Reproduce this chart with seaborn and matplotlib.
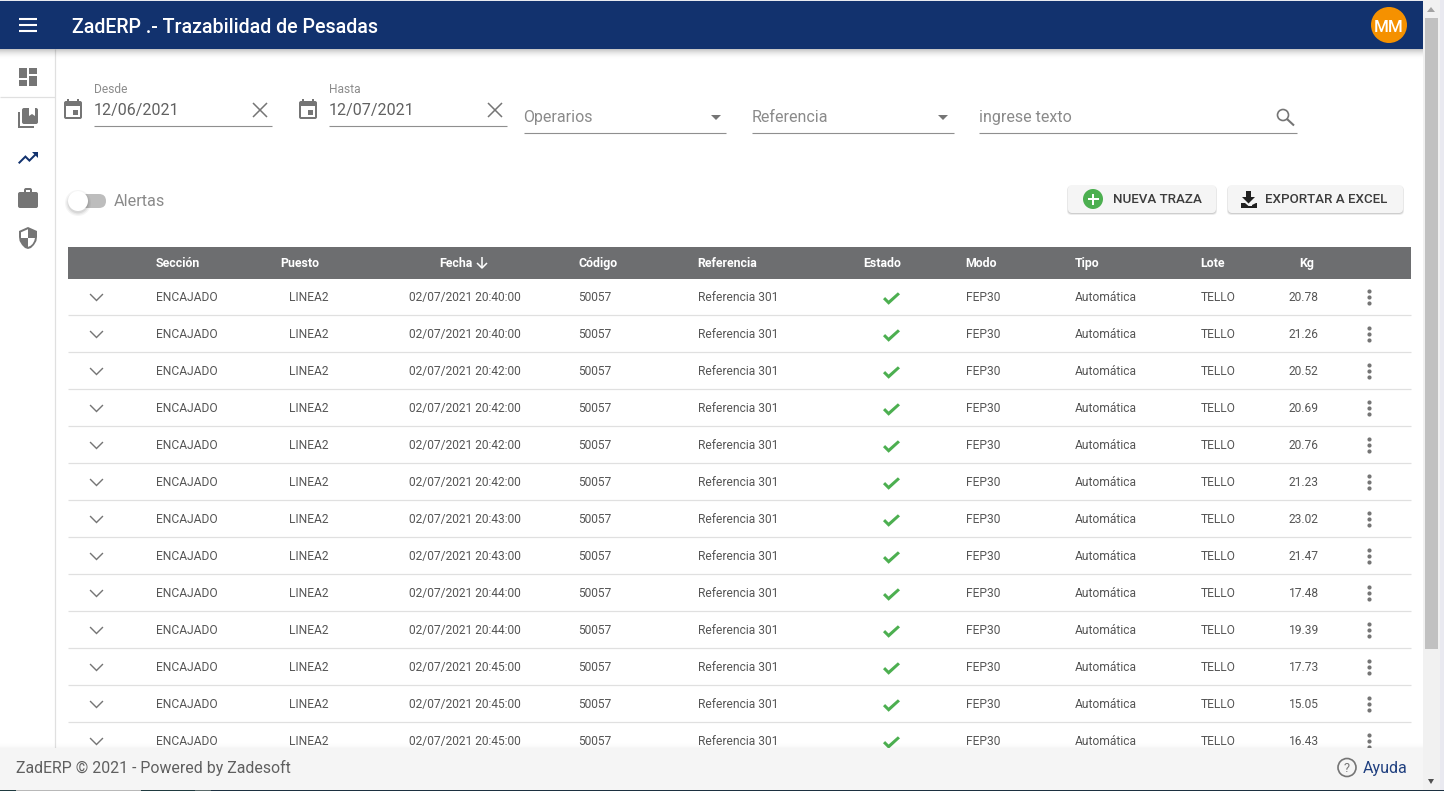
import numpy as np
import pandas as pd
import matplotlib
matplotlib.use('Agg')
import matplotlib.pyplot as plt
import seaborn as sns
from matplotlib.path import Path
from matplotlib.patches import Rectangle, Circle, Polygon, FancyBboxPatch

# table contents
columns = ['Sección', 'Puesto', 'Fecha', 'Código', 'Referencia', 'Estado', 'Modo', 'Tipo', 'Lote', 'Kg']
fechas = ['02/07/2021 20:40:00', '02/07/2021 20:40:00', '02/07/2021 20:42:00', '02/07/2021 20:42:00',
          '02/07/2021 20:42:00', '02/07/2021 20:42:00', '02/07/2021 20:43:00', '02/07/2021 20:43:00',
          '02/07/2021 20:44:00', '02/07/2021 20:44:00', '02/07/2021 20:45:00', '02/07/2021 20:45:00',
          '02/07/2021 20:45:00']
kg = ['20.78', '21.26', '20.52', '20.69', '20.76', '21.23', '23.02', '21.47', '17.48', '19.39', '17.73', '15.05', '16.43']
seccion = ['ENCAJADO'] * 13
puesto = ['LINEA2'] * 13
codigo = ['50057'] * 13
referencia = ['Referencia 301'] * 13
modo = ['FEP30'] * 13
tipo = ['Automática'] * 13
lote = ['TELLO'] * 13

BLUE = '#12326e'
ICON = '#757575'
TXT = '#5f5f5f'
HEAD = '#6d6e70'
LINE = '#e0e0e0'

sns.set_style('white')
plt.rcParams['font.family'] = ['Roboto', 'DejaVu Sans']

ROW0, ROWH = 297, 37


def px(n):
    return n * 0.72


df = pd.DataFrame({'row': range(13), 'fecha': fechas, 'kg': kg, 'seccion': seccion, 'puesto': puesto,
                   'codigo': codigo, 'referencia': referencia, 'modo': modo, 'tipo': tipo, 'lote': lote})
df['y'] = ROW0 + ROWH * df['row']

fig = plt.figure(figsize=(14.44, 7.91), dpi=100)
ax = fig.add_axes([0, 0, 1, 1])
ax.set_xlim(0, 1444)
ax.set_ylim(791, 0)
ax.axis('off')


def rect(x0, y0, x1, y1, color, z=2, alpha=1):
    ax.add_patch(Rectangle((x0, y0), x1 - x0, y1 - y0, fc=color, ec='none', zorder=z, alpha=alpha))


def shadow(x0, x1, y0, h, z, strength=0.16, down=True):
    # soft edge made of thin stripes
    for i in range(h):
        a = strength * (1 - i / h) ** 2
        yy = y0 + i if down else y0 - i - 1
        rect(x0, yy, x1, yy + 1, 'black', z, a)


def poly(pts, ox, oy, color, z=3, scale=1.0):
    pts = np.array(pts, dtype=float) * scale + [ox, oy]
    ax.add_patch(Polygon(pts, closed=True, fc=color, ec='none', zorder=z))


def seg(xs, ys, color, lw, z=3, cap='butt'):
    ax.plot(xs, ys, color=color, lw=lw, zorder=z, solid_capstyle=cap)


def label(x, y, s, size, color=TXT, ha='left', weight='normal', z=4):
    # same baseline for every string, whatever its descenders
    ax.text(x, y + 0.36 * size, s, fontsize=px(size), color=color, ha=ha, va='baseline', fontweight=weight, zorder=z)


def rounded(x0, y0, x1, y1, r, color, z=3, ec='none'):
    ax.add_patch(FancyBboxPatch((x0 + r, y0 + r), x1 - x0 - 2 * r, y1 - y0 - 2 * r,
                                boxstyle=f'round,pad={r},rounding_size={r}', fc=color, ec=ec, lw=0, zorder=z))


# top bar
rect(0, 1, 1423, 49, BLUE, 8)
rect(0, 0, 1423, 1, '#e8eaf0', 8)
shadow(0, 1423, 49, 10, 7, 0.22)
for yy in (19, 25, 31):
    seg([19, 37], [yy, yy], 'white', 1.5, 9)
label(72, 26, 'ZadERP .- Trazabilidad de Pesadas', 19.7, 'white', weight='medium', z=9)
ax.add_patch(Circle((1389, 25), 18, fc='#f59100', ec='none', zorder=9))
label(1389, 25.5, 'MM', 17, 'white', 'center', 'medium', 10)

# side menu
seg([55, 55], [49, 748], LINE, 0.9, 1)
seg([0, 55], [97, 97], LINE, 0.9, 1)
for box in [(19, 68, 27, 78), (19, 80, 27, 86), (29, 68, 37, 74), (29, 76, 37, 86)]:
    rect(*box, ICON, 3)
# library books
rect(18, 112, 20, 128, ICON, 3)
rect(18, 126, 34, 128, ICON, 3)
rounded(22, 108, 38, 124, 2, ICON)
poly([(29, 108), (35, 108), (35, 116), (32, 114), (29, 116)], 0, 0, 'white', 4)
# trending up
poly([(16, 6), (18.29, 8.29), (13.41, 13.17), (9.41, 9.17), (2, 16.59), (3.41, 18), (9.41, 12),
      (13.41, 16), (19.71, 9.71), (22, 12), (22, 6)], 16, 146, BLUE)
# briefcase
rounded(18, 192, 38, 208, 2, ICON)
rounded(24, 188, 32, 196, 2, ICON)
rect(26, 190, 30, 192, 'white', 4)
# shield, white in two quarters
shield = [(12, 1), (3, 5), (3, 11), (3.6, 15), (6, 19), (9, 22), (12, 23), (15, 22), (18, 19), (20.4, 15), (21, 11), (21, 5)]
poly(shield, 16, 226, ICON)
poly([(12, 12), (19, 12), (18.2, 15), (16.5, 18), (14.5, 19.8), (12, 20.9)], 16, 226, 'white', 4)
poly([(12, 12), (5, 12), (5, 6.3), (12, 3.2)], 16, 226, 'white', 4)


def calendar(x0, y0):
    rounded(x0, y0 + 2, x0 + 18, y0 + 20, 2, ICON)
    rect(x0 + 2, y0 + 7, x0 + 16, y0 + 18, 'white', 4)
    rect(x0 + 3, y0, x0 + 5, y0 + 3, ICON, 3)
    rect(x0 + 13, y0, x0 + 15, y0 + 3, ICON, 3)
    rect(x0 + 9, y0 + 11, x0 + 14, y0 + 16, ICON, 5)


def cross(cx, cy):
    seg([cx - 7, cx + 7], [cy - 7, cy + 7], ICON, 1.1)
    seg([cx - 7, cx + 7], [cy + 7, cy - 7], ICON, 1.1)


# filter row
calendar(64, 99)
calendar(299, 99)
label(94, 88.5, 'Desde', 12, '#8c8c8c')
label(329, 88.5, 'Hasta', 12, '#8c8c8c')
label(94, 109, '12/06/2021', 16, '#616161')
label(329, 109, '12/07/2021', 16, '#616161')
cross(260, 110)
cross(495, 110)
for x0, x1, yy in [(94, 272, 126), (329, 507, 126), (524, 726, 133), (752, 954, 133), (979, 1297, 133)]:
    seg([x0, x1], [yy, yy], '#8f8f8f', 0.8)
label(523.5, 116, 'Operarios', 16, '#8a8a8a')
label(751.5, 116, 'Referencia', 16, '#8a8a8a')
label(979, 116, 'ingrese texto', 16, '#8a8a8a')
poly([(711, 115), (721, 115), (716, 120)], 0, 0, ICON)
poly([(938, 115), (948, 115), (943, 120)], 0, 0, ICON)
ax.add_patch(Circle((1283, 115), 5.5, fc='none', ec=ICON, lw=1.2, zorder=3))
seg([1287, 1294], [119, 125.5], ICON, 1.5)

# alert switch
rounded(72, 194, 106, 208, 7, '#bdbdbd')
for i, a in enumerate((0.04, 0.05, 0.07)):
    ax.add_patch(Circle((78, 203), 13 - i * 1.3, fc='black', ec='none', alpha=a, zorder=3.5))
ax.add_patch(Circle((78, 201), 10, fc='white', ec='none', zorder=4))
label(114, 200.5, 'Alertas', 16.2, '#8a8a8a')

# buttons
for x0, x1 in [(1068, 1216), (1228, 1403)]:
    for i, a in enumerate((0.05, 0.08, 0.12)):
        rounded(x0 - 1 + i * 0.5, 186, x1 + 1 - i * 0.5, 215 - i * 0.7, 4, 'black', 3)
        ax.patches[-1].set_alpha(a)
    rounded(x0, 185, x1, 213, 4, '#f5f5f5', 3.5)
ax.add_patch(Circle((1093, 199), 10, fc='#4caf50', ec='none', zorder=4))
rect(1092, 193.5, 1094, 204.5, 'white', 5)
rect(1087.5, 198, 1098.5, 200, 'white', 5)
label(1113, 198.5, 'NUEVA TRAZA', 13.4, '#3c3c3c', weight='medium')
poly([(1246, 191), (1251, 191), (1251, 197), (1255, 197), (1248.5, 203.5), (1242, 197), (1246, 197)], 0, 0, '#212121', 4)
poly([(1241, 203), (1245, 203), (1248.5, 206), (1252, 206), (1252, 205), (1256, 203), (1257, 203), (1257, 208), (1241, 208)], 0, 0, '#212121', 4)
label(1265, 198.5, 'EXPORTAR A EXCEL', 13.4, '#3c3c3c', weight='medium')

# table header
rect(68, 247, 1411, 279, HEAD, 2)
head_x = [156, 280.5, 439.5, 578.5, 697.5, 863.5, 965.5, 1075, 1200.5, 1299.5]
for col, x in zip(columns, head_x):
    label(x, 263, col, 12.4, 'white', 'left', 'bold')
# sort arrow
seg([482, 482], [257, 268], 'white', 1.1)
seg([477, 482, 487], [263, 268, 263], 'white', 1.1)

# table rows
for col, x in [('seccion', 156), ('puesto', 289), ('fecha', 408.6), ('codigo', 578.5), ('referencia', 698),
               ('modo', 966), ('tipo', 1075), ('lote', 1201), ('kg', 1288.5)]:
    for yy, s in zip(df['y'], df[col]):
        label(x, yy, s, 12, '#555555')
for yy in df['y'].iloc[:-1]:
    seg([68, 1411], [yy + 18, yy + 18], LINE, 0.9, 1)

# status checks, row chevrons and row menus go through seaborn
check = Path(np.array([(-3, -6.5), (-8.8, -0.7), (-6.6, 1.5), (-3, -2.1), (6.6, 6.4), (8.8, 4.3), (-3, -6.5)]),
             closed=True)
chevron = Path(np.array([(-7, 3), (-6, 4), (0, -2), (6, 4), (7, 3), (0, -4), (-7, 3)], dtype=float), closed=True)
df['x_check'] = 891
df['x_chev'] = 96
df['x_menu'] = 1369
sns.scatterplot(data=df, x='x_check', y=df['y'] + 1, marker=check, s=150, color='#4caf50', linewidth=0, ax=ax, zorder=3)
sns.scatterplot(data=df, x='x_chev', y='y', marker=chevron, s=100, color=ICON, linewidth=0, ax=ax, zorder=3)
for off in (-6, 0, 6):
    sns.scatterplot(data=df, x='x_menu', y=df['y'] + off, marker='o', s=9, color=ICON, linewidth=0, ax=ax, zorder=3)
ax.set_xlim(0, 1444)
ax.set_ylim(791, 0)
ax.axis('off')

# footer
shadow(0, 1423, 748, 6, 6, 0.03, down=False)
rect(0, 748, 1423, 790, '#f5f5f5', 7)
label(16, 767, 'ZadERP © 2021 - Powered by Zadesoft', 15.95, '#5f5f5f', z=8)
ax.add_patch(Circle((1347, 767.5), 9, fc='none', ec=ICON, lw=1.2, zorder=8))
label(1347, 767.5, '?', 13, ICON, 'center', z=8)
label(1363, 767, 'Ayuda', 16, '#1f3f7f', z=8)

# browser scrollbar
rect(1423, 0, 1440, 790, '#f1f1f1', 8)
rect(1440, 0, 1444, 790, '#e9e9f0', 8)
rect(1425, 18, 1438, 649, '#c1c1c1', 9)
poly([(1427, 12), (1435, 12), (1431, 7)], 0, 0, '#a3a3a3', 9)
poly([(1428, 779), (1434, 779), (1431, 784)], 0, 0, '#505050', 9)
# taskbar peeking in at the very bottom
for x0, x1, c in [(0, 16, '#1f3a3f'), (16, 141, '#b8b8b8'), (141, 195, '#1f3a3f'), (195, 211, '#5a6a6a'), (211, 1444, '#1c3040')]:
    rect(x0, 790, x1, 791, c, 10)

fig.savefig('out.png', dpi=100)
